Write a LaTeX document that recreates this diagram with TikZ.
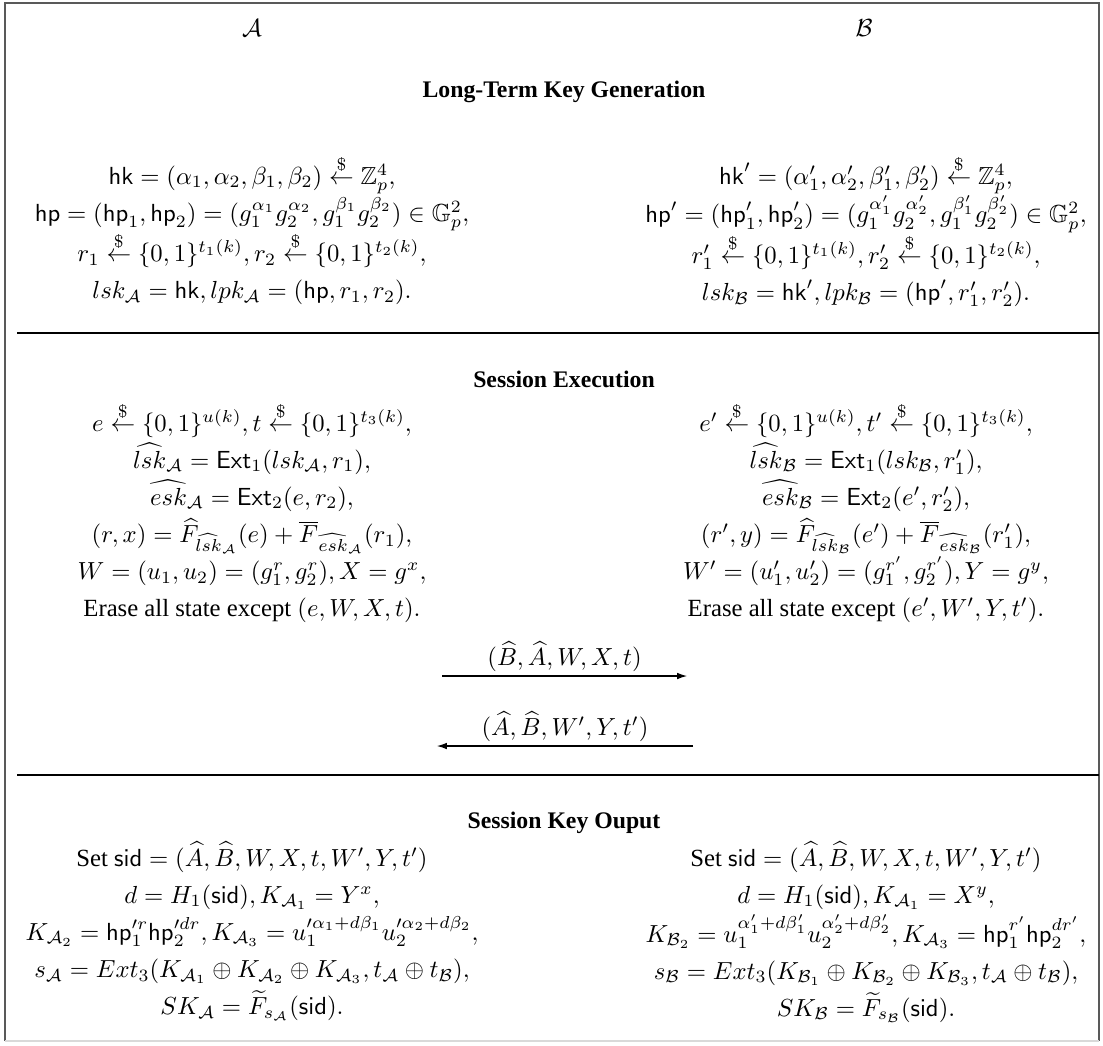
\RequirePackage{fix-cm}
\documentclass[tikz,border=0pt]{standalone}
\usepackage{amsmath,amssymb}
\usepackage[no-math]{fontspec}
\setmainfont{Liberation Serif}
\usetikzlibrary{arrows.meta}

\newcommand{\rsample}{\overset{\$}{\leftarrow}}
\renewcommand{\arraystretch}{1.25}

\begin{document}
\begin{tikzpicture}[
    x=0.421pt, y=-0.421pt,
    party/.style={anchor=center, font=\fontsize{10.4}{12.5}\selectfont},
    title/.style={font=\bfseries, anchor=base},
    block/.style={anchor=base, inner sep=0pt, font=\fontsize{10.4}{12.5}\selectfont},
    msg/.style={-{Latex[length=4.2pt,width=2.8pt]}, line width=0.45pt},
    lbl/.style={above, inner sep=1.5pt, font=\fontsize{10.4}{12.5}\selectfont},
    rule/.style={line width=0.45pt}
]
    \useasboundingbox (0,0) rectangle (1103,1045);

    % Frame
    \draw[black!65, line width=0.6pt] (5,1041) -- (5,3) -- (1099,3) -- (1099,1041);
    \draw[black!15, line width=0.6pt] (5,1041) -- (1099,1041);

    % Coordinates
    \coordinate (sep1_l) at (17,333);
    \coordinate (sep1_r) at (1099,333);
    \coordinate (sep2_l) at (17,775);
    \coordinate (sep2_r) at (1099,775);
    \coordinate (msg1_start) at (442,676);
    \coordinate (msg1_end) at (687,676);
    \coordinate (msg2_start) at (693,746);
    \coordinate (msg2_end) at (437,746);

    % Parties
    \node[party] (party_a) at (252,28) {$\mathcal{A}$};
    \node[party] (party_b) at (864,28) {$\mathcal{B}$};

    % Long-term key generation
    \node[title] (title_keygen) at (564,97) {Long-Term Key Generation};
    \node[block] (keygen_a) at (252,184) {$\begin{array}[t]{c}
        \mathsf{hk} = (\alpha_1, \alpha_2, \beta_1, \beta_2) \rsample \mathbb{Z}_p^4,\\
        \mathsf{hp} = (\mathsf{hp}_1, \mathsf{hp}_2) = (g_1^{\alpha_1} g_2^{\alpha_2}, g_1^{\beta_1} g_2^{\beta_2}) \in \mathbb{G}_p^2,\\
        r_1 \rsample \{0,1\}^{t_1(k)}, r_2 \rsample \{0,1\}^{t_2(k)},\\
        lsk_{\mathcal{A}} = \mathsf{hk}, lpk_{\mathcal{A}} = (\mathsf{hp}, r_1, r_2).
    \end{array}$};
    \node[block] (keygen_b) at (866,184) {$\begin{array}[t]{c}
        \mathsf{hk}' = (\alpha_1', \alpha_2', \beta_1', \beta_2') \rsample \mathbb{Z}_p^4,\\
        \mathsf{hp}' = (\mathsf{hp}_1', \mathsf{hp}_2') = (g_1^{\alpha_1'} g_2^{\alpha_2'}, g_1^{\beta_1'} g_2^{\beta_2'}) \in \mathbb{G}_p^2,\\
        r_1' \rsample \{0,1\}^{t_1(k)}, r_2' \rsample \{0,1\}^{t_2(k)},\\
        lsk_{\mathcal{B}} = \mathsf{hk}', lpk_{\mathcal{B}} = (\mathsf{hp}', r_1', r_2').
    \end{array}$};
    \draw[rule] (sep1_l) -- (sep1_r);

    % Session execution
    \node[title] (title_exec) at (564,387) {Session Execution};
    \node[block] (exec_a) at (252,431) {$\begin{array}[t]{c}
        e \rsample \{0,1\}^{u(k)}, t \rsample \{0,1\}^{t_3(k)},\\
        \widehat{lsk}_{\mathcal{A}} = \mathsf{Ext}_1(lsk_{\mathcal{A}}, r_1),\\
        \widehat{esk}_{\mathcal{A}} = \mathsf{Ext}_2(e, r_2),\\
        (r, x) = \widehat{F}_{\widehat{lsk}_{\mathcal{A}}}(e) + \overline{F}_{\widehat{esk}_{\mathcal{A}}}(r_1),\\
        W = (u_1, u_2) = (g_1^r, g_2^r), X = g^x,\\
        \text{Erase all state except } (e, W, X, t).
    \end{array}$};
    \node[block] (exec_b) at (866,431) {$\begin{array}[t]{c}
        e' \rsample \{0,1\}^{u(k)}, t' \rsample \{0,1\}^{t_3(k)},\\
        \widehat{lsk}_{\mathcal{B}} = \mathsf{Ext}_1(lsk_{\mathcal{B}}, r_1'),\\
        \widehat{esk}_{\mathcal{B}} = \mathsf{Ext}_2(e', r_2'),\\
        (r', y) = \widehat{F}_{\widehat{lsk}_{\mathcal{B}}}(e') + \overline{F}_{\widehat{esk}_{\mathcal{B}}}(r_1'),\\
        W' = (u_1', u_2') = (g_1^{r'}, g_2^{r'}), Y = g^y,\\
        \text{Erase all state except } (e', W', Y, t').
    \end{array}$};

    % Messages
    \draw[msg] (msg1_start) -- (msg1_end)
        node[midway, lbl] (msg1_label) {$(\widehat{B}, \widehat{A}, W, X, t)$};
    \draw[msg] (msg2_start) -- (msg2_end)
        node[midway, lbl] (msg2_label) {$(\widehat{A}, \widehat{B}, W', Y, t')$};
    \draw[rule] (sep2_l) -- (sep2_r);

    % Session key output
    \node[title] (title_output) at (564,828) {Session Key Ouput};
    \node[block] (output_a) at (252,866) {$\begin{array}[t]{c}
        \text{Set } \mathsf{sid} = (\widehat{A}, \widehat{B}, W, X, t, W', Y, t')\\
        d = H_1(\mathsf{sid}), K_{\mathcal{A}_1} = Y^x,\\
        K_{\mathcal{A}_2} = \mathsf{hp}_1^{\prime r} \mathsf{hp}_2^{\prime dr}, K_{\mathcal{A}_3} = u_1^{\prime\alpha_1 + d\beta_1} u_2^{\prime\alpha_2 + d\beta_2},\\
        s_{\mathcal{A}} = Ext_3(K_{\mathcal{A}_1} \oplus K_{\mathcal{A}_2} \oplus K_{\mathcal{A}_3}, t_{\mathcal{A}} \oplus t_{\mathcal{B}}),\\
        SK_{\mathcal{A}} = \widetilde{F}_{s_{\mathcal{A}}}(\mathsf{sid}).
    \end{array}$};
    \node[block] (output_b) at (866,866) {$\begin{array}[t]{c}
        \text{Set } \mathsf{sid} = (\widehat{A}, \widehat{B}, W, X, t, W', Y, t')\\
        d = H_1(\mathsf{sid}), K_{\mathcal{A}_1} = X^y,\\
        K_{\mathcal{B}_2} = u_1^{\alpha_1' + d\beta_1'} u_2^{\alpha_2' + d\beta_2'}, K_{\mathcal{A}_3} = \mathsf{hp}_1^{r'} \mathsf{hp}_2^{dr'},\\
        s_{\mathcal{B}} = Ext_3(K_{\mathcal{B}_1} \oplus K_{\mathcal{B}_2} \oplus K_{\mathcal{B}_3}, t_{\mathcal{A}} \oplus t_{\mathcal{B}}),\\
        SK_{\mathcal{B}} = \widetilde{F}_{s_{\mathcal{B}}}(\mathsf{sid}).
    \end{array}$};

\end{tikzpicture}
\end{document}
